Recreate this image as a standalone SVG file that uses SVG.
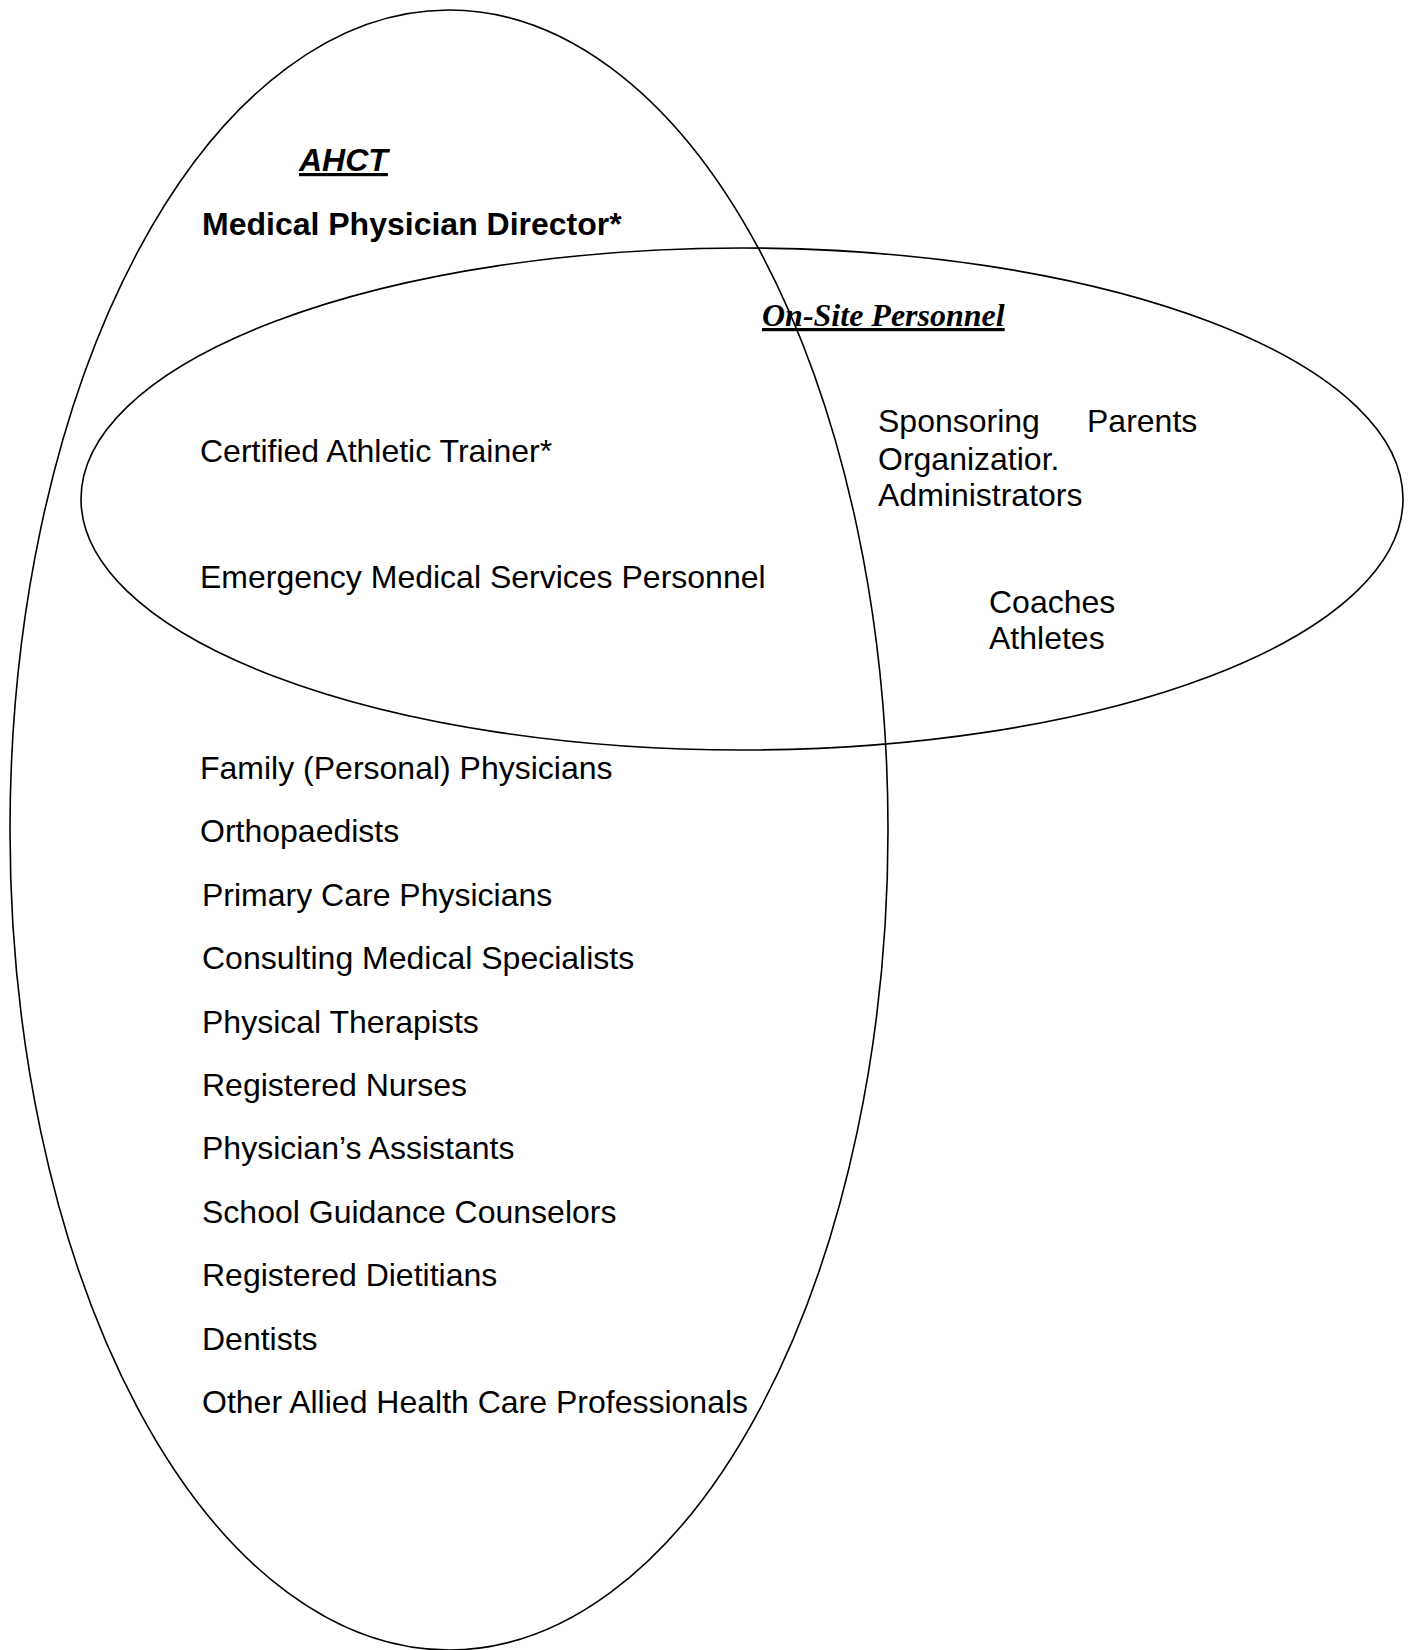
<svg xmlns="http://www.w3.org/2000/svg" width="1410" height="1650" viewBox="0 0 1410 1650">
<style>
.sh{fill:none;stroke:#000;stroke-width:1.6}
.t{font-family:"Liberation Sans",Arial,sans-serif;font-size:32px;fill:#000}
.b{font-weight:bold}
.u{text-decoration:underline}
.tr{font-family:"Liberation Serif","Times New Roman",serif;font-size:32px;font-weight:bold;font-style:italic;fill:#000}
</style>
<rect width="1410" height="1650" fill="#fff"/>
<g id="ahct-set">
<ellipse class="sh" cx="449" cy="830" rx="439" ry="820"/>
<text class="t b u" x="299" y="171" font-style="italic">AHCT</text>
<text class="t b" x="202" y="235">Medical Physician Director*</text>
</g>
<g id="onsite-set">
<ellipse class="sh" cx="742" cy="499" rx="661" ry="251"/>
<text class="tr u" x="762" y="326">On-Site Personnel</text>
<text class="t" x="878" y="432">Sponsoring</text>
<text class="t" x="1087" y="432">Parents</text>
<text class="t" x="878" y="470">Organizatior.</text>
<text class="t" x="878" y="506">Administrators</text>
<text class="t" x="989" y="613">Coaches</text>
<text class="t" x="989" y="649">Athletes</text>
</g>
<g id="overlap">
<text class="t" x="200" y="462">Certified Athletic Trainer*</text>
<text class="t" x="200" y="588">Emergency Medical Services Personnel</text>
</g>
<g id="ahct-list">
<text class="t" x="200" y="779">Family (Personal) Physicians</text>
<text class="t" x="200" y="842">Orthopaedists</text>
<text class="t" x="202" y="906">Primary Care Physicians</text>
<text class="t" x="202" y="969">Consulting Medical Specialists</text>
<text class="t" x="202" y="1033">Physical Therapists</text>
<text class="t" x="202" y="1096">Registered Nurses</text>
<text class="t" x="202" y="1159">Physician’s Assistants</text>
<text class="t" x="202" y="1223">School Guidance Counselors</text>
<text class="t" x="202" y="1286">Registered Dietitians</text>
<text class="t" x="202" y="1350">Dentists</text>
<text class="t" x="202" y="1413">Other Allied Health Care Professionals</text>
</g>
<g id="connectors"></g>
</svg>
